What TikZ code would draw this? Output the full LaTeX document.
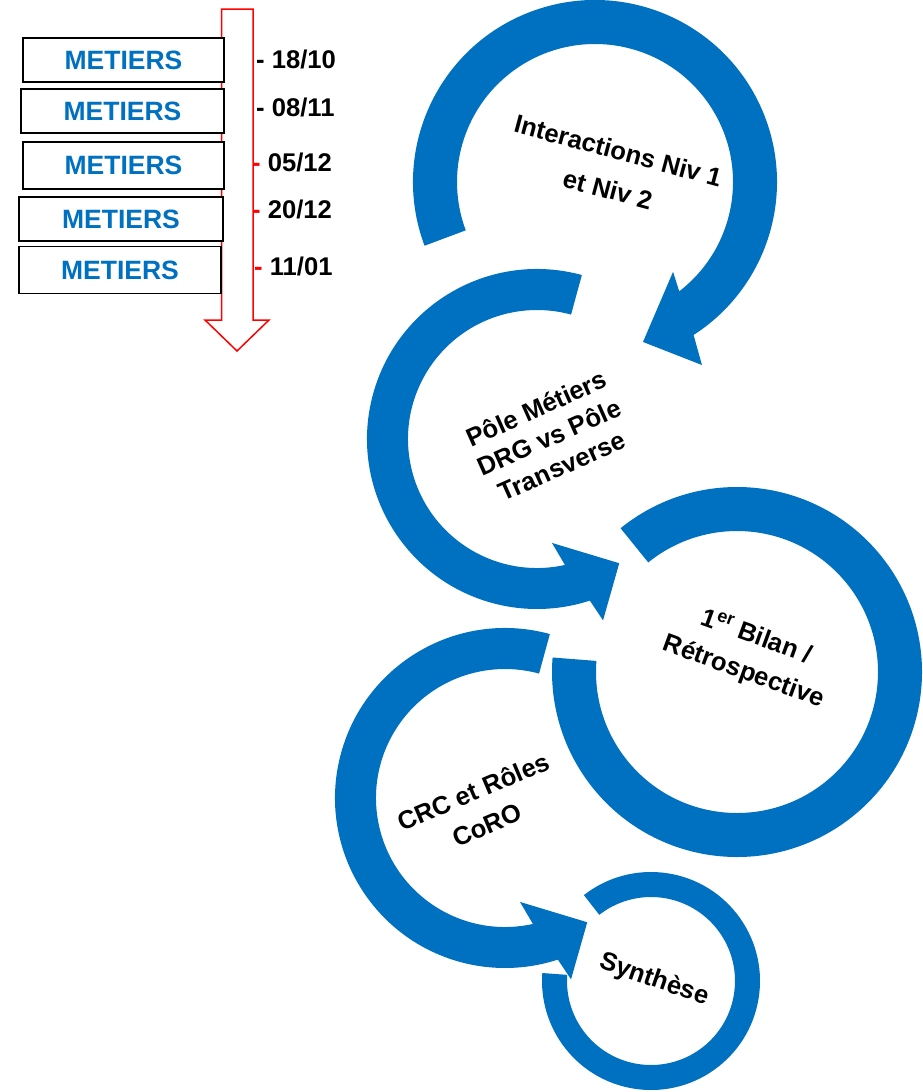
\documentclass[tikz,border=0pt]{standalone}
\usepackage{fontspec}
\setmainfont{Liberation Sans}
\usetikzlibrary{calc}
\definecolor{ringblue}{HTML}{0070C0}
\begin{document}
\begin{tikzpicture}[x=1pt,y=1pt,
  ringarrow/.style={fill=ringblue, draw=none},
  phase/.style={align=center, inner sep=0pt, text=black},
  metbox/.style={draw=black, line width=1.6pt, fill=white, inner sep=0pt,
    text=ringblue, font=\bfseries\fontsize{26.5}{30}\selectfont},
  datelabel/.style={font=\bfseries\fontsize{25.6}{30}\selectfont, inner sep=0pt, anchor=base west},
  timeline/.style={draw=red, line width=1.5pt, fill=white, line join=miter}
]
\useasboundingbox (0,0) rectangle (922,-1092);

% ---------- timeline ----------
\path[timeline] (221.5,-9) -- (253,-9) -- (253,-320) -- (269,-320) -- (237,-351)
  -- (205,-320) -- (221.5,-320) -- cycle;

\node[metbox, minimum width=201, minimum height=44] (m1) at (123.5,-60)   {METIERS};
\node[metbox, minimum width=203, minimum height=44] (m2) at (122.5,-111)  {METIERS};
\node[metbox, minimum width=201, minimum height=47] (m3) at (123.5,-165.5){METIERS};
\node[metbox, minimum width=204, minimum height=44] (m4) at (121,-219)    {METIERS};
\node[metbox, minimum width=202, minimum height=47] (m5) at (120,-270)    {METIERS};

\node[datelabel] (d1) at (256,-68.3)  {- 18/10};
\node[datelabel] (d2) at (256,-116.7) {- 08/11};
\node[datelabel] (d3) at (252,-171.7) {\textcolor{red}{-} 05/12};
\node[datelabel] (d4) at (252,-218.3) {\textcolor{red}{-} 20/12};
\node[datelabel] (d5) at (254,-275)   {\textcolor{red}{-} 11/01};

% ---------- circular arrows ----------
\coordinate (c1) at (595,-182);
\coordinate (c2) at (537,-439);
\coordinate (c3) at (737,-672);
\coordinate (c4) at (505,-798);
\coordinate (c5) at (651,-981);

% step 1: clockwise ring with head at lower right
\path[ringarrow] ($(c1)+(200.5:182)$) arc[start angle=200.5, end angle=-57.2, radius=182]
  -- ($(c1)+(-59.7:212)$) -- ($(c1)+(-73.3:167)$) -- ($(c1)+(-49:119)$)
  -- ($(c1)+(-52.4:138)$) arc[start angle=-52.4, end angle=200.5, radius=138] -- cycle;

% step 2: counter-clockwise ring with head at lower right
\path[ringarrow] ($(c2)+(74.7:170)$) arc[start angle=74.7, end angle=288.1, radius=170]
  -- ($(c2)+(-70:193)$) -- ($(c2)+(-56.5:149)$) -- ($(c2)+(-81.8:105)$)
  -- ($(c2)+(-77.5:129)$) arc[start angle=282.5, end angle=74.7, radius=129] -- cycle;

% step 3: open ring
\path[ringarrow] ($(c3)+(129:185)$) arc[start angle=129, end angle=-184.5, radius=185]
  -- ($(c3)+(-184.5:141)$) arc[start angle=-184.5, end angle=129, radius=141] -- cycle;

% step 4: counter-clockwise ring with head at lower right
\path[ringarrow] ($(c4)+(74.7:170)$) arc[start angle=74.7, end angle=288.1, radius=170]
  -- ($(c4)+(-70:193)$) -- ($(c4)+(-56.5:149)$) -- ($(c4)+(-81.8:105)$)
  -- ($(c4)+(-77.5:129)$) arc[start angle=282.5, end angle=74.7, radius=129] -- cycle;

% step 5: small open ring
\path[ringarrow] ($(c5)+(128:109)$) arc[start angle=128, end angle=-184.2, radius=109]
  -- ($(c5)+(-184.2:84)$) arc[start angle=-184.2, end angle=128, radius=84] -- cycle;

% ---------- step labels ----------
\node[phase, rotate=-15, font=\bfseries\fontsize{25.6}{40}\selectfont] (t1) at (613,-170)
  {Interactions Niv 1\\et Niv 2};
\node[phase, rotate=24, font=\bfseries\fontsize{25.6}{31.5}\selectfont] (t2) at (549,-437)
  {Pôle Métiers\\DRG vs Pôle\\Transverse};
\node[phase, rotate=-20, font=\bfseries\fontsize{25.6}{37}\selectfont] (t3) at (750,-655)
  {1\textsuperscript{er} Bilan /\\Rétrospective};
\node[phase, rotate=23, font=\bfseries\fontsize{25.6}{36}\selectfont] (t4) at (480,-808)
  {CRC et Rôles\\CoRO};
\node[phase, rotate=-19, font=\bfseries\fontsize{25.6}{31}\selectfont] (t5) at (654,-980)
  {Synthèse};
\end{tikzpicture}
\end{document}
